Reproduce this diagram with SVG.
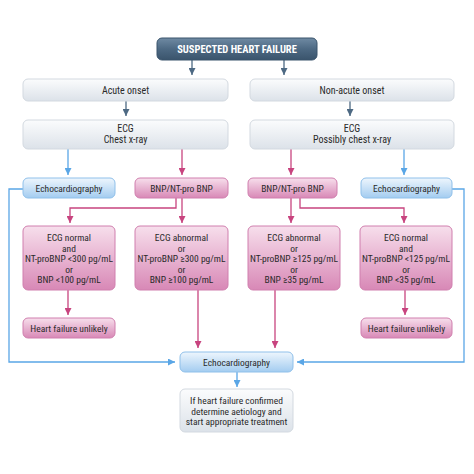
<svg xmlns="http://www.w3.org/2000/svg" width="474" height="474" viewBox="0 0 474 474">
<defs>
<linearGradient id="gDark" x1="0" y1="0" x2="0" y2="1"><stop offset="0" stop-color="#6f8aa3"/><stop offset="0.5" stop-color="#4d6983"/><stop offset="1" stop-color="#3a546c"/></linearGradient>
<linearGradient id="gGrey" x1="0" y1="0" x2="0" y2="1"><stop offset="0" stop-color="#fbfcfd"/><stop offset="1" stop-color="#dce2e9"/></linearGradient>
<linearGradient id="gBlue" x1="0" y1="0" x2="0" y2="1"><stop offset="0" stop-color="#eef6fd"/><stop offset="1" stop-color="#a3ccf0"/></linearGradient>
<linearGradient id="gPink" x1="0" y1="0" x2="0" y2="1"><stop offset="0" stop-color="#f7dfec"/><stop offset="1" stop-color="#d888b6"/></linearGradient>
<marker id="aDark" viewBox="0 0 10 10" refX="10" refY="5" markerWidth="7" markerHeight="7" markerUnits="userSpaceOnUse" orient="auto"><path d="M0,0L10,5L0,10z" fill="#4d6983"/></marker>
<marker id="aPink" viewBox="0 0 10 10" refX="10" refY="5" markerWidth="7" markerHeight="7" markerUnits="userSpaceOnUse" orient="auto"><path d="M0,0L10,5L0,10z" fill="#c8447f"/></marker>
<marker id="aBlue" viewBox="0 0 10 10" refX="10" refY="5" markerWidth="7" markerHeight="7" markerUnits="userSpaceOnUse" orient="auto"><path d="M0,0L10,5L0,10z" fill="#5aa6e6"/></marker>
</defs>
<style>
text{font-family:"Liberation Sans Narrow","Roboto Condensed","Liberation Sans",sans-serif;font-size:9.5px;fill:#2a2a2a;text-anchor:middle}
.s{font-size:10px}
.t{fill:#fff;font-weight:bold;font-size:10.5px}
.dark{fill:url(#gDark);stroke:#3a546c;stroke-width:1}
.grey{fill:url(#gGrey);stroke:#d3d9e0;stroke-width:1}
.blue{fill:url(#gBlue);stroke:#8fc0ea;stroke-width:1}
.pink{fill:url(#gPink);stroke:#d07fae;stroke-width:1}
.cd{fill:none;stroke:#4d6983;stroke-width:1.3;marker-end:url(#aDark)}
.cpa{fill:none;stroke:#c8447f;stroke-width:1.3;marker-end:url(#aPink)}
.cba{fill:none;stroke:#5aa6e6;stroke-width:1.3;marker-end:url(#aBlue)}
</style>
<rect width="474" height="474" fill="#fff"/>
<g id="connectors">
<path class="cd" d="M192,60V75"/>
<path class="cd" d="M284,60V75"/>
<path class="cd" d="M126,101V116"/>
<path class="cd" d="M350,101V116"/>
<path class="cba" d="M68,149V175"/>
<path class="cpa" d="M182,149V175"/>
<path class="cpa" d="M291,149V175"/>
<path class="cba" d="M404,149V175"/>
<path class="cpa" d="M176,198V208H70V223"/>
<path class="cpa" d="M182,198V223"/>
<path class="cpa" d="M291,198V223"/>
<path class="cpa" d="M300,198V208H404V223"/>
<path class="cpa" d="M68,290V315"/>
<path class="cpa" d="M405,290V315"/>
<path class="cpa" d="M198,290V348"/>
<path class="cpa" d="M275,290V348"/>
<path class="cba" d="M23,189H9V362H175"/>
<path class="cba" d="M452,189H464V362H297"/>
<path class="cba" d="M237,372V387"/>
</g>
<g id="n-suspected"><rect class="dark" x="157" y="38" width="160" height="22" rx="5"/><text class="t" x="237" y="53">SUSPECTED HEART FAILURE</text></g>
<g id="n-acute"><rect class="grey" x="23" y="79" width="205" height="22" rx="5"/><text class="s" x="125.5" y="93.5">Acute onset</text></g>
<g id="n-nonacute"><rect class="grey" x="250" y="79" width="204" height="22" rx="5"/><text class="s" x="352" y="93.5">Non-acute onset</text></g>
<g id="n-ecg-left"><rect class="grey" x="23" y="120" width="205" height="29" rx="5"/><text class="s" x="125.5" y="132">ECG</text><text class="s" x="125.5" y="143">Chest x-ray</text></g>
<g id="n-ecg-right"><rect class="grey" x="250" y="120" width="204" height="29" rx="5"/><text class="s" x="352" y="132">ECG</text><text class="s" x="352" y="143">Possibly chest x-ray</text></g>
<g id="n-echo-left"><rect class="blue" x="23" y="178" width="92" height="20" rx="5"/><text x="69" y="191.5">Echocardiography</text></g>
<g id="n-bnp-left"><rect class="pink" x="135" y="178" width="93" height="20" rx="5"/><text x="181.5" y="191.5">BNP/NT-pro BNP</text></g>
<g id="n-bnp-right"><rect class="pink" x="248" y="178" width="89" height="20" rx="5"/><text x="292.5" y="191.5">BNP/NT-pro BNP</text></g>
<g id="n-echo-right"><rect class="blue" x="361" y="178" width="91" height="20" rx="5"/><text x="406.5" y="191.5">Echocardiography</text></g>
<g id="n-l1"><rect class="pink" x="23" y="226" width="92" height="64" rx="5"/><text x="69" y="241">ECG normal</text><text x="69" y="251.5">and</text><text x="69" y="262">NT-proBNP &lt;300 pg/mL</text><text x="69" y="272.5">or</text><text x="69" y="283">BNP &lt;100 pg/mL</text></g>
<g id="n-l2"><rect class="pink" x="135" y="226" width="93" height="64" rx="5"/><text x="181.5" y="241">ECG abnormal</text><text x="181.5" y="251.5">or</text><text x="181.5" y="262">NT-proBNP ≥300 pg/mL</text><text x="181.5" y="272.5">or</text><text x="181.5" y="283">BNP ≥100 pg/mL</text></g>
<g id="n-r1"><rect class="pink" x="248" y="226" width="92" height="64" rx="5"/><text x="294" y="241">ECG abnormal</text><text x="294" y="251.5">or</text><text x="294" y="262">NT-proBNP ≥125 pg/mL</text><text x="294" y="272.5">or</text><text x="294" y="283">BNP ≥35 pg/mL</text></g>
<g id="n-r2"><rect class="pink" x="360" y="226" width="92" height="64" rx="5"/><text x="406" y="241">ECG normal</text><text x="406" y="251.5">and</text><text x="406" y="262">NT-proBNP &lt;125 pg/mL</text><text x="406" y="272.5">or</text><text x="406" y="283">BNP &lt;35 pg/mL</text></g>
<g id="n-unlikely-left"><rect class="pink" x="23" y="318" width="92" height="20" rx="5"/><text x="69" y="331.5">Heart failure unlikely</text></g>
<g id="n-unlikely-right"><rect class="pink" x="361" y="318" width="91" height="20" rx="5"/><text x="406.5" y="331.5">Heart failure unlikely</text></g>
<g id="n-echo-bottom"><rect class="blue" x="180" y="352" width="113" height="20" rx="5"/><text x="236.5" y="365.5">Echocardiography</text></g>
<g id="n-final"><rect class="grey" x="180" y="389" width="113" height="43" rx="5"/><text x="236.5" y="404">If heart failure confirmed</text><text x="236.5" y="414.5">determine aetiology and</text><text x="236.5" y="425">start appropriate treatment</text></g>
</svg>
